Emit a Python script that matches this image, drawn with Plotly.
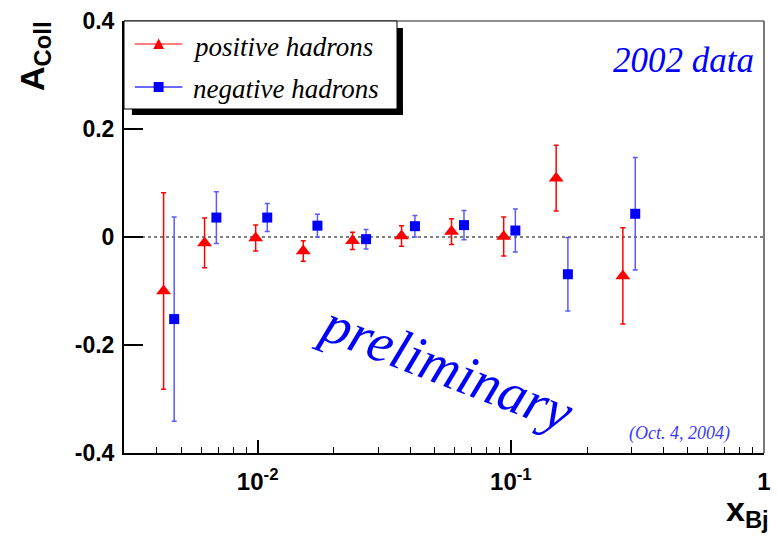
import plotly.graph_objects as go

# ---------------- data ----------------
x_pos = [0.00425, 0.00617, 0.00982, 0.01514, 0.0237, 0.0370, 0.0583, 0.0937, 0.151, 0.277]
a_pos = [-0.100, -0.011, -0.002, -0.026, -0.007, 0.002, 0.010, 0.001, 0.109, -0.072]
e_pos = [0.182, 0.046, 0.024, 0.019, 0.016, 0.019, 0.024, 0.036, 0.061, 0.089]

x_neg = [0.00468, 0.00687, 0.01091, 0.01722, 0.0268, 0.0418, 0.0653, 0.1042, 0.168, 0.310]
a_neg = [-0.152, 0.036, 0.036, 0.021, -0.004, 0.020, 0.022, 0.012, -0.069, 0.043]
e_neg = [0.189, 0.048, 0.026, 0.021, 0.018, 0.020, 0.027, 0.040, 0.068, 0.104]

x_tickvals = [0.01, 0.1, 1]
x_ticktext = ["10<sup>-2</sup>", "10<sup>-1</sup>", "1"]
x_minor = [0.004, 0.005, 0.006, 0.007, 0.008, 0.009,
           0.02, 0.03, 0.04, 0.05, 0.06, 0.07, 0.08, 0.09,
           0.2, 0.3, 0.4, 0.5, 0.6, 0.7, 0.8, 0.9]
y_tickvals = [-0.4, -0.2, 0, 0.2, 0.4]
y_ticktext = ["-0.4", "-0.2", "0", "0.2", "0.4"]

# ---------------- layout geometry ----------------
W, H = 778, 539
L, R, T, B = 124, 7, 21, 86
PW, PH = W - L - R, H - T - B


def px(x):
    return (x - L) / PW


def py(y):
    return (H - B - y) / PH


RED = "#ff0000"
BLUE = "#0000ff"
SANS = "Liberation Sans, Arial, sans-serif"
SERIF = "Liberation Serif, Times New Roman, serif"

fig = go.Figure()

fig.add_trace(go.Scatter(
    x=x_pos, y=a_pos, mode="markers", name="positive hadrons",
    marker=dict(symbol="triangle-up", size=13, color=RED, line=dict(width=0)),
    error_y=dict(type="data", array=e_pos, visible=True, color=RED,
                 thickness=1.5, width=2.5),
    showlegend=False,
))
fig.add_trace(go.Scatter(
    x=x_neg, y=a_neg, mode="markers", name="negative hadrons",
    marker=dict(symbol="square", size=10, color=BLUE, line=dict(width=0)),
    error_y=dict(type="data", array=e_neg, visible=True, color="#5a5aff",
                 thickness=1.5, width=2.5),
    showlegend=False,
))

shapes = []
# zero dotted line
shapes.append(dict(type="line", xref="paper", yref="y", x0=0, x1=1, y0=0, y1=0,
                   line=dict(color="black", width=1, dash="dot"), layer="below"))
# frame top & right
shapes.append(dict(type="line", xref="paper", yref="paper", x0=0, x1=1, y0=1, y1=1,
                   line=dict(color="#222222", width=1.2)))
shapes.append(dict(type="line", xref="paper", yref="paper", x0=1, x1=1, y0=0, y1=1,
                   line=dict(color="#222222", width=1.2)))
# legend shadow
shapes.append(dict(type="rect", xref="paper", yref="paper",
                   x0=px(400), x1=px(406), y0=py(115), y1=py(28),
                   fillcolor="black", line=dict(width=0)))
shapes.append(dict(type="rect", xref="paper", yref="paper",
                   x0=px(132), x1=px(406), y0=py(115), y1=py(109),
                   fillcolor="black", line=dict(width=0)))
# legend box
shapes.append(dict(type="rect", xref="paper", yref="paper",
                   x0=px(124), x1=px(400), y0=py(109), y1=py(21),
                   fillcolor="white", line=dict(color="black", width=1)))
# legend sample lines
shapes.append(dict(type="line", xref="paper", yref="paper",
                   x0=px(135), x1=px(183), y0=py(44), y1=py(44),
                   line=dict(color=RED, width=1)))
shapes.append(dict(type="line", xref="paper", yref="paper",
                   x0=px(135), x1=px(183), y0=py(87), y1=py(87),
                   line=dict(color="#6a6aff", width=2)))
# legend sample markers
tri = "M {:.5f},{:.5f} L {:.5f},{:.5f} L {:.5f},{:.5f} Z".format(
    px(153.5), py(49), px(164.5), py(49), px(159), py(38.5))
shapes.append(dict(type="path", xref="paper", yref="paper", path=tri,
                   fillcolor=RED, line=dict(width=0)))
shapes.append(dict(type="rect", xref="paper", yref="paper",
                   x0=px(154), x1=px(164), y0=py(92), y1=py(82),
                   fillcolor=BLUE, line=dict(width=0)))

annotations = [
    dict(text="positive hadrons", x=px(192), y=py(47), xref="paper", yref="paper",
         xanchor="left", yanchor="middle", showarrow=False,
         font=dict(family=SERIF, size=27, color="black", style="italic")),
    dict(text="negative hadrons", x=px(192), y=py(89), xref="paper", yref="paper",
         xanchor="left", yanchor="middle", showarrow=False,
         font=dict(family=SERIF, size=27, color="black", style="italic")),
    dict(text="2002 data", x=px(763), y=py(61), xref="paper", yref="paper",
         xanchor="right", yanchor="middle", showarrow=False,
         font=dict(family=SERIF, size=35, color=BLUE, style="italic")),
    dict(text="(Oct. 4, 2004)", x=px(686), y=py(433), xref="paper", yref="paper",
         xanchor="center", yanchor="middle", showarrow=False,
         font=dict(family=SERIF, size=18, color="#3a3aff", style="italic")),
    dict(text="preliminary", x=px(450), y=py(367), xref="paper", yref="paper",
         xanchor="center", yanchor="middle", showarrow=False, textangle=21,
         font=dict(family=SERIF, size=56, color=BLUE, style="italic")),
    dict(text="A<sub>Coll</sub>", x=px(34), y=py(56), xref="paper", yref="paper",
         xanchor="center", yanchor="middle", showarrow=False, textangle=-90,
         font=dict(family=SANS, size=34, color="black", weight="bold")),
    dict(text="x<sub>Bj</sub>", x=px(778), y=py(512), xref="paper", yref="paper",
         xanchor="right", yanchor="middle", showarrow=False,
         font=dict(family=SANS, size=34, color="black", weight="bold")),
]

fig.update_layout(
    width=W, height=H,
    margin=dict(l=L, r=R, t=T, b=B, pad=0),
    paper_bgcolor="white", plot_bgcolor="white",
    showlegend=False,
    shapes=shapes,
    annotations=annotations,
    xaxis=dict(
        type="log", range=[-2.528, 0],
        tickmode="array", tickvals=x_tickvals, ticktext=x_ticktext,
        ticks="inside", ticklen=13, tickwidth=1.5, tickcolor="black",
        showline=True, linewidth=2, linecolor="black",
        showgrid=False, zeroline=False,
        tickfont=dict(family=SANS, size=24, color="black", weight="bold"),
        ticklabelstandoff=6,
        minor=dict(tickmode="array", tickvals=x_minor, ticks="inside",
                   ticklen=6, tickwidth=1, tickcolor="black", showgrid=False),
    ),
    yaxis=dict(
        range=[-0.4, 0.4],
        tickmode="array", tickvals=y_tickvals, ticktext=y_ticktext,
        ticks="inside", ticklen=19, tickwidth=1.5, tickcolor="black",
        showline=True, linewidth=2, linecolor="black",
        showgrid=False, zeroline=False,
        tickfont=dict(family=SANS, size=23, color="black", weight="bold"),
        ticklabelstandoff=3,
    ),
)

fig.write_html("out.html", config={"displayModeBar": False},
               post_script="document.body.style.margin='0';")
